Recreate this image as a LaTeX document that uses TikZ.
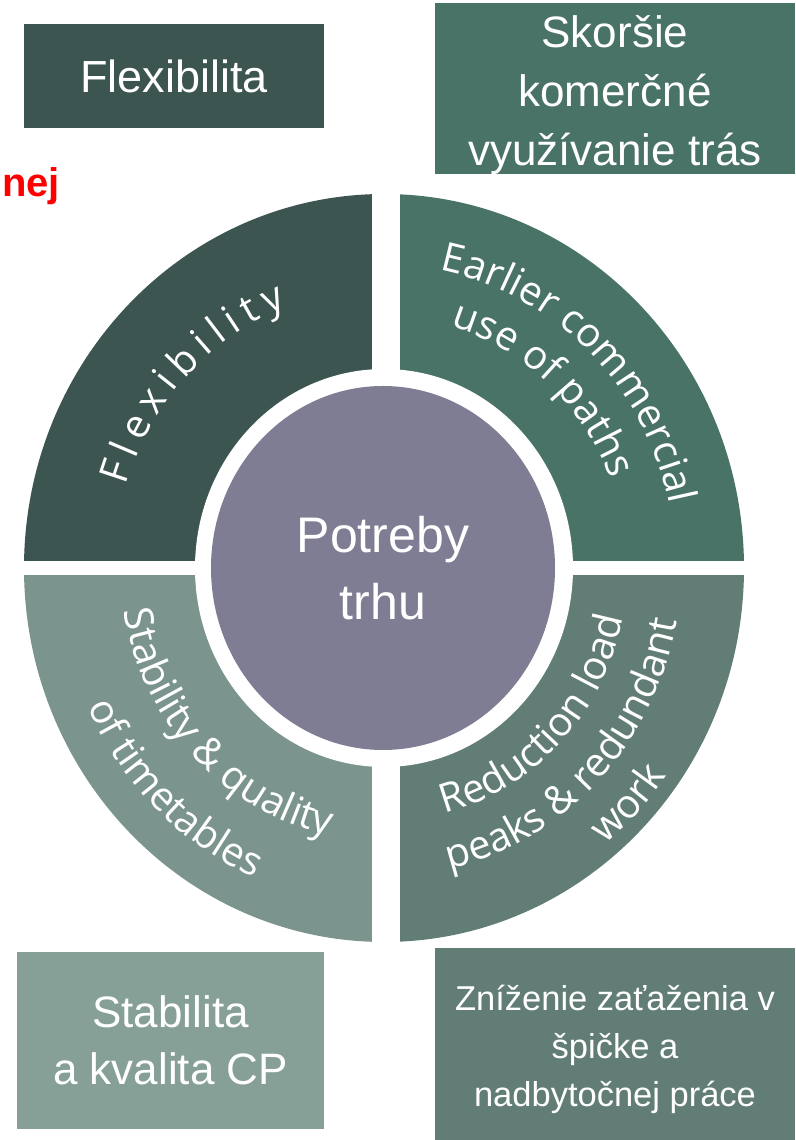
\documentclass[tikz,border=0pt]{standalone}
\usepackage{fontspec}
\usetikzlibrary{shapes.geometric,decorations.text}
\newfontfamily\boxfont{Liberation Sans}
\newfontfamily\ringfont{Open Sans}
\newcommand\ringsize{\ringfont\fontsize{40}{48}\selectfont}
\definecolor{flexcol}{HTML}{3C5550}
\definecolor{earlycol}{HTML}{4A7368}
\definecolor{stabcol}{HTML}{7B958E}
\definecolor{stabbox}{HTML}{86A098}
\definecolor{redcol}{HTML}{617D75}
\definecolor{needcol}{HTML}{7F7D93}

\begin{document}
\begin{tikzpicture}[x=1pt,y=1pt,
  skbox/.style={rectangle,inner sep=0pt},
  sktext/.style={inner sep=0pt,text=white,align=center},
  ringtext/.style={decorate,decoration={text along path,text color=white,text align=center}}] %
  \useasboundingbox (0,0) rectangle (795,1140);
  % slovak boxes
  \node[skbox,fill=flexcol,minimum width=300pt,minimum height=104pt] (flexibilita) at (174,1064) {} ; %
  \node[sktext,font=\boxfont\fontsize{45}{54}\selectfont] (flexibilitatxt) at (flexibilita) {Flexibilita} ; %
  \node[skbox,fill=earlycol,minimum width=360pt,minimum height=171pt] (skorsie) at (615,1051.5) {} ; %
  \node[sktext,font=\boxfont\fontsize{44}{59}\selectfont,yshift=-7pt] (skorsietxt) at (skorsie) {Skoršie\\komerčné\\využívanie trás} ; %
  \node[skbox,fill=stabbox,minimum width=307pt,minimum height=177pt] (stabilita) at (170.5,99.5) {} ; %
  \node[sktext,font=\boxfont\fontsize{44}{57}\selectfont] (stabilitatxt) at (stabilita) {Stabilita\\a kvalita CP} ; %
  \node[skbox,fill=redcol,minimum width=360pt,minimum height=192pt] (znizenie) at (615,96) {} ; %
  \node[sktext,font=\boxfont\fontsize{34.5}{48}\selectfont,yshift=-5pt] (znizenietxt) at (znizenie) {Zníženie zaťaženia v\\špičke a\\nadbytočnej práce} ; %
  \node[anchor=base west,inner sep=0pt,text=red,font=\boxfont\bfseries\fontsize{40}{46}\selectfont] (nej) at (2,943) {nej} ; %
  % ring
  \fill[flexcol] (384,572) -- ++(90:360 and 374) arc[start angle=90,end angle=180,x radius=360,y radius=374] -- cycle;
  \fill[earlycol] (384,572) -- ++(0:360 and 374) arc[start angle=0,end angle=90,x radius=360,y radius=374] -- cycle;
  \fill[stabcol] (384,572) -- ++(180:360 and 374) arc[start angle=180,end angle=270,x radius=360,y radius=374] -- cycle;
  \fill[redcol] (384,572) -- ++(270:360 and 374) arc[start angle=270,end angle=360,x radius=360,y radius=374] -- cycle;
  \fill[white] (372,180) rectangle (400,960);
  \fill[white] (10,565) rectangle (760,579);
  \fill[white] (384,572) ellipse[x radius=189,y radius=199];
  \node[ellipse,fill=needcol,minimum width=344pt,minimum height=364pt,inner sep=0pt,text=white,align=center,font=\boxfont\fontsize{50}{67}\selectfont] (potreby) at (383,572) {Potreby\\trhu} ; %
  % english texts on the ring
  \path[ringtext,decoration={text align=fit to path,text={|\ringsize|Flexibility}}] ([shift={(384,572)}]163:270 and 280.5) arc[start angle=163,end angle=111,x radius=270,y radius=280.5];
  \path[ringtext,decoration={text={|\ringsize|Earlier commercial}}] ([shift={(384,572)}]106:292 and 303.4) arc[start angle=106,end angle=-14,x radius=292,y radius=303.4];
  \path[ringtext,decoration={text={|\ringsize|use of paths}}] ([shift={(384,572)}]108:242 and 251.4) arc[start angle=108,end angle=-12,x radius=242,y radius=251.4];
  \path[ringtext,decoration={text={|\ringsize|Stability {\&} quality}}] ([shift={(384,572)}]164:263 and 273.3) arc[start angle=164,end angle=284,x radius=263,y radius=273.3];
  \path[ringtext,decoration={text={|\ringsize|of timetables}}] ([shift={(384,572)}]166:325 and 337.7) arc[start angle=166,end angle=286,x radius=325,y radius=337.7];
  \path[ringtext,decoration={text={|\ringsize|Reduction load}}] ([shift={(384,572)}]256:244 and 253.5) arc[start angle=256,end angle=376,x radius=244,y radius=253.5];
  \path[ringtext,decoration={text={|\ringsize|peaks {\&} redundant}}] ([shift={(384,572)}]256:297 and 308.6) arc[start angle=256,end angle=376,x radius=297,y radius=308.6];
  \path[ringtext,decoration={text={|\ringsize|work}}] ([shift={(384,572)}]256.5:346 and 359.5) arc[start angle=256.5,end angle=376.5,x radius=346,y radius=359.5];
\end{tikzpicture}
\end{document}
